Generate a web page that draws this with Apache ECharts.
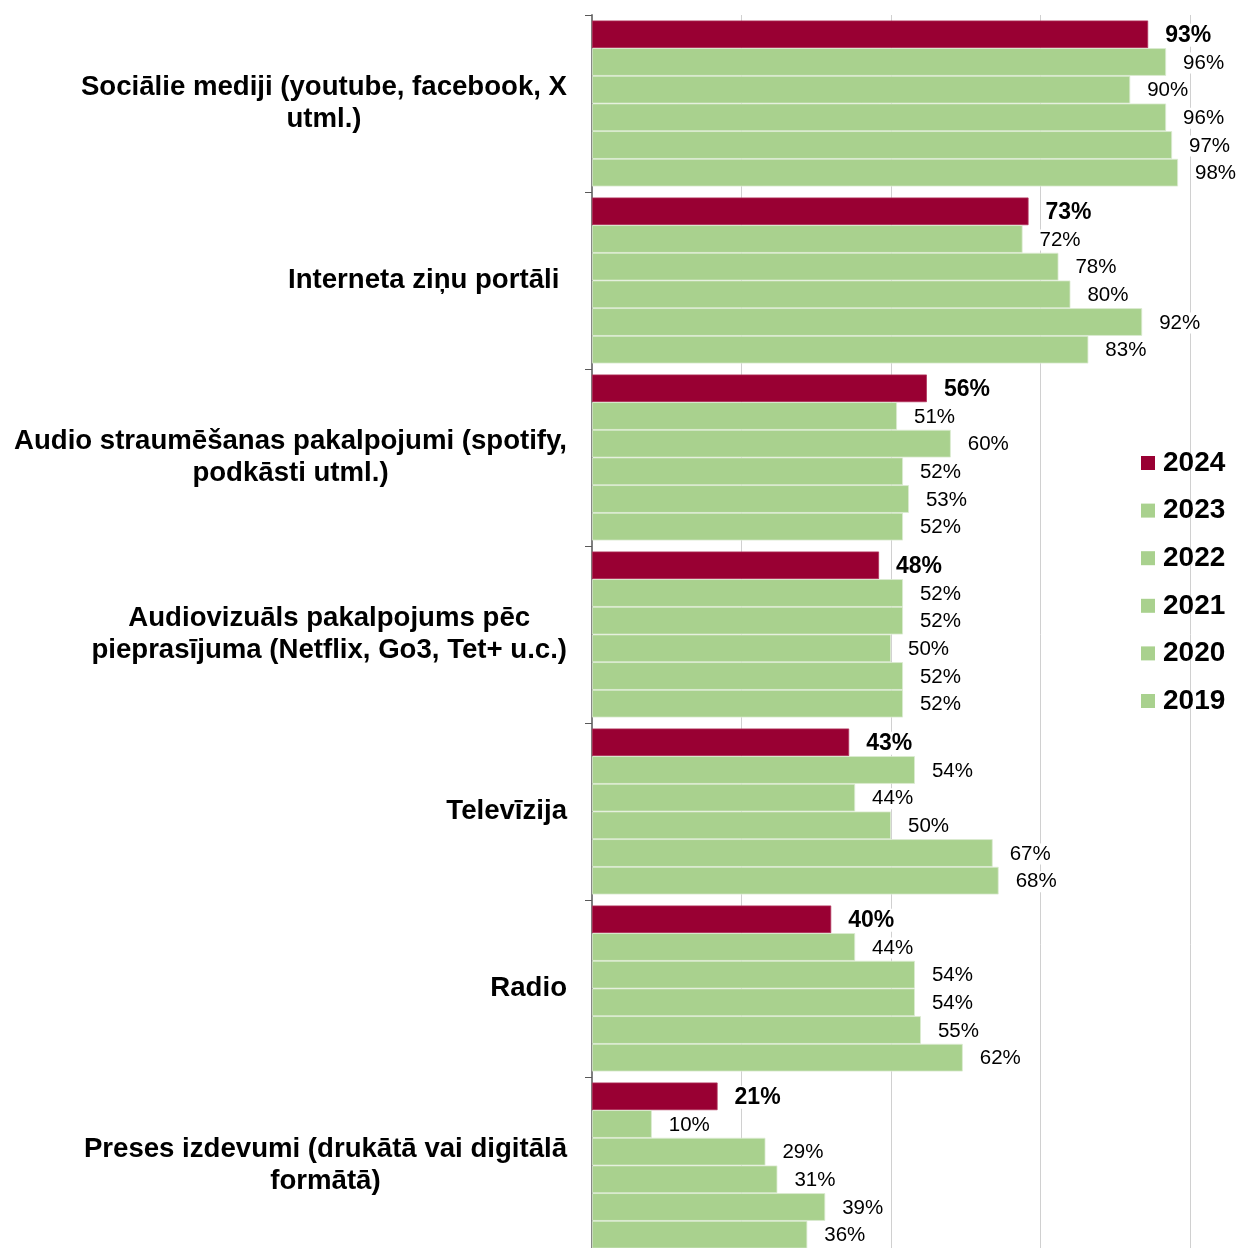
<!DOCTYPE html>
<html>
<head>
<meta charset="utf-8">
<script src="https://cdn.jsdelivr.net/npm/echarts@6/dist/echarts.min.js"></script>
<style>
html,body{margin:0;padding:0;background:#fff;overflow:hidden;}
#chart{width:1236px;height:1262px;}
</style>
</head>
<body>
<div id="chart"></div>
<script>
const categories = [
  "Sociālie mediji (youtube, facebook, X\nutml.)",
  "Interneta ziņu portāli ",
  "Audio straumēšanas pakalpojumi (spotify,\npodkāsti utml.)",
  "Audiovizuāls pakalpojums pēc\npieprasījuma (Netflix, Go3, Tet+ u.c.)",
  "Televīzija",
  "Radio",
  "Preses izdevumi (drukātā vai digitālā\nformātā)"
];
const seriesNames = ["2024", "2023", "2022", "2021", "2020", "2019"];
const v2024 = [93, 73, 56, 48, 43, 40, 21];
const v2023 = [96, 72, 51, 52, 54, 44, 10];
const v2022 = [90, 78, 60, 52, 44, 54, 29];
const v2021 = [96, 80, 52, 50, 50, 54, 31];
const v2020 = [97, 92, 53, 52, 67, 55, 39];
const v2019 = [98, 83, 52, 52, 68, 62, 36];
const xTicks = [0, 25, 50, 75, 100];

const FONT = "'Liberation Sans', Arial, sans-serif";
const RED = '#990033';
const GREEN = '#a9d18e';
const allValues = [v2024, v2023, v2022, v2021, v2020, v2019];

const chart = echarts.init(document.getElementById('chart'));

const series = seriesNames.map((name, i) => ({
  name: name,
  type: 'bar',
  data: allValues[i],
  barGap: '0%',
  barCategoryGap: '6.2%',
  itemStyle: {
    color: i === 0 ? RED : GREEN,
    borderColor: i === 0 ? '#b0345c' : '#dcebd2',
    borderWidth: 0.8
  },
  label: {
    show: true,
    position: 'right',
    distance: 16,
    offset: [0, 1],
    formatter: '{c}%',
    color: '#000',
    fontFamily: FONT,
    fontSize: i === 0 ? 23 : 20.5,
    fontWeight: i === 0 ? 'bold' : 'normal',
    backgroundColor: '#fff',
    padding: [0, 1, 0, 1]
  },
  emphasis: { disabled: true },
  animation: false
}));

chart.setOption({
  animation: false,
  backgroundColor: '#fff',
  textStyle: { fontFamily: FONT },
  grid: { left: 592, top: 15, width: 598, height: 1239, containLabel: false },
  legend: {
    orient: 'vertical',
    left: 1136,
    top: 444,
    itemWidth: 14,
    itemHeight: 14,
    itemGap: 19.6,
    icon: 'rect',
    data: seriesNames,
    selectedMode: false,
    itemStyle: { borderWidth: 0 },
    textStyle: {
      fontFamily: FONT,
      fontSize: 28,
      fontWeight: 'bold',
      color: '#000',
      lineHeight: 28,
      padding: [0, 0, 0, 3]
    }
  },
  xAxis: {
    type: 'value',
    min: xTicks[0],
    max: xTicks[xTicks.length - 1],
    interval: xTicks[1] - xTicks[0],
    axisLabel: { show: false },
    axisLine: { show: false },
    axisTick: { show: false },
    splitLine: { show: true, lineStyle: { color: '#d0d0d0', width: 1 } }
  },
  yAxis: {
    type: 'category',
    data: categories,
    inverse: true,
    axisLine: { show: true, lineStyle: { color: '#7f7f7f', width: 2 } },
    axisTick: { show: true, length: 7, lineStyle: { color: '#595959', width: 1 } },
    axisLabel: {
      margin: 25,
      color: '#000',
      formatter: function (value) {
        return value.split('\n').map(s => '{c|' + s + '}').join('\n');
      },
      rich: {
        c: {
          align: 'center',
          fontFamily: FONT,
          fontSize: 27.6,
          fontWeight: 'bold',
          lineHeight: 32,
          color: '#000'
        }
      }
    }
  },
  series: series
});
</script>
</body>
</html>
